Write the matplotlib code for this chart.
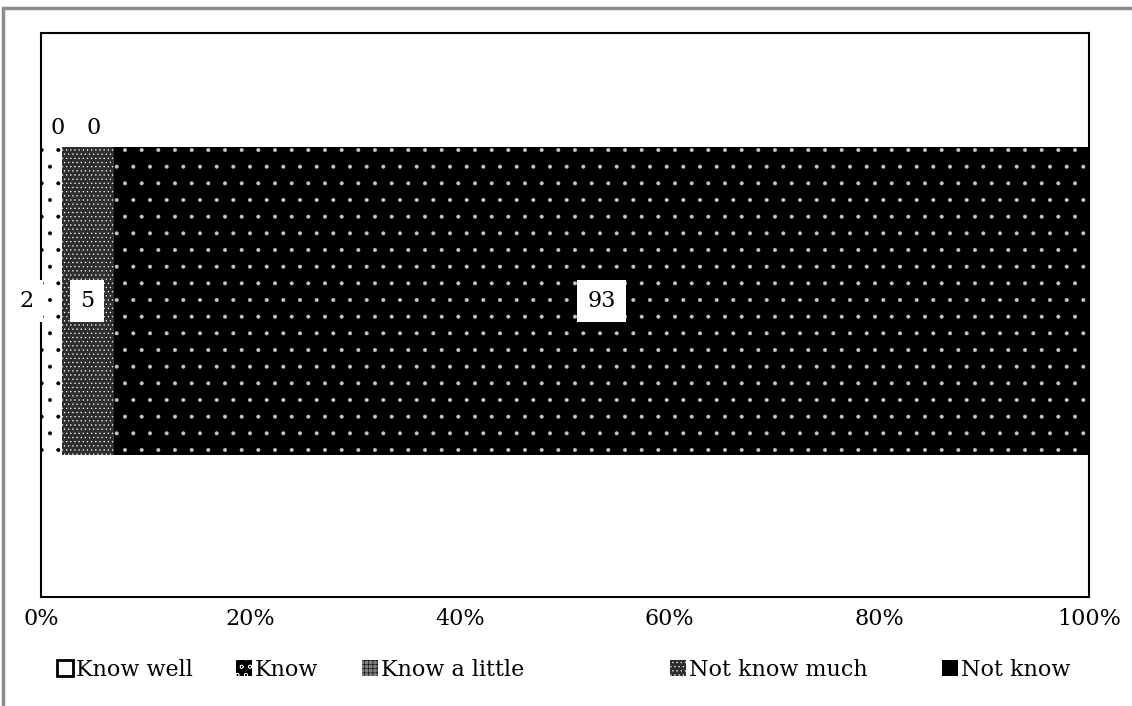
import numpy as np
import matplotlib
matplotlib.use("Agg")
import matplotlib.pyplot as plt
from matplotlib.patches import Rectangle

# Survey answers, share of respondents (%)
categories = ["Know well", "Know", "Know a little", "Not know much", "Not know"]
values = [2, 0, 0, 5, 93]
tick_values = [0, 20, 40, 60, 80, 100]

# fill / hatch colour / hatch pattern for each answer
faces = ["white", "black", "#7f7f7f", "#2e2e2e", "black"]
hatch_colors = ["black", "white", "black", "white", "#c8c8c8"]
hatches = [".", "oo", "++++", "....", "."]
legend_x = [57, 236, 362, 670, 942]  # left edge of each legend entry (px)

plt.rcParams["font.family"] = ["DejaVu Serif"]
plt.rcParams["hatch.linewidth"] = 0.4

fig = plt.figure(figsize=(11.32, 7.06), dpi=100)
ax = fig.add_axes([41 / 1132, 1 - 597 / 706, 1048 / 1132, 564 / 706])

left = 0
bars = []
for cat, v, fc, hc, h in zip(categories, values, faces, hatch_colors, hatches):
    b = ax.barh(0, v, left=left, height=1.0, color=fc, edgecolor=hc,
                hatch=h, linewidth=0, label=cat)
    bars.append(b)
    left += v

ax.set_xlim(0, 100)
ax.set_ylim(-0.961, 0.870)
ax.set_yticks([])
ax.set_xticks(tick_values)
ax.set_xticklabels([f"{t}%" for t in tick_values])
ax.tick_params(axis="x", length=0, pad=8, labelsize=16)
for s in ax.spines.values():
    s.set_linewidth(1.5)
    s.set_color("black")

# value labels
box = dict(boxstyle="square,pad=0.45", facecolor="white", edgecolor="none")
ax.text(-1.4, 0, "2", ha="center", va="center", fontsize=16, bbox=box,
        clip_on=False)
ax.text(4.4, 0, "5", ha="center", va="center", fontsize=16, bbox=box)
ax.text(53.5, 0, "93", ha="center", va="center", fontsize=16, bbox=box)
ax.annotate("0", (1.6, 0.5), xytext=(0, 6), textcoords="offset points",
            ha="center", va="bottom", fontsize=16)
ax.annotate("0", (5.0, 0.5), xytext=(0, 6), textcoords="offset points",
            ha="center", va="bottom", fontsize=16)

# one legend per entry so each sits at its own spot along the bottom
for b, cat, px in zip(bars, categories, legend_x):
    leg = fig.legend([b], [cat], loc="center left",
                     bbox_to_anchor=(px / 1132, 1 - 670 / 706),
                     frameon=False, fontsize=16, handlelength=0.7,
                     handleheight=0.7, handletextpad=0.15, borderpad=0,
                     borderaxespad=0)
    h = leg.legend_handles[0]
    if cat == "Know well":
        h.set_hatch(None)
        h.set_edgecolor("black")
        h.set_linewidth(2)
    elif cat == "Not know":
        h.set_hatch(None)
    else:
        h.set_linewidth(0)

# grey frame around the chart
fig.patches.append(Rectangle((3 / 1132, -0.05), 1.1, 1.05 - 8 / 706,
                             transform=fig.transFigure, fill=False,
                             edgecolor="#8c8c8c", linewidth=2.5))

fig.savefig("out.png", dpi=100)
